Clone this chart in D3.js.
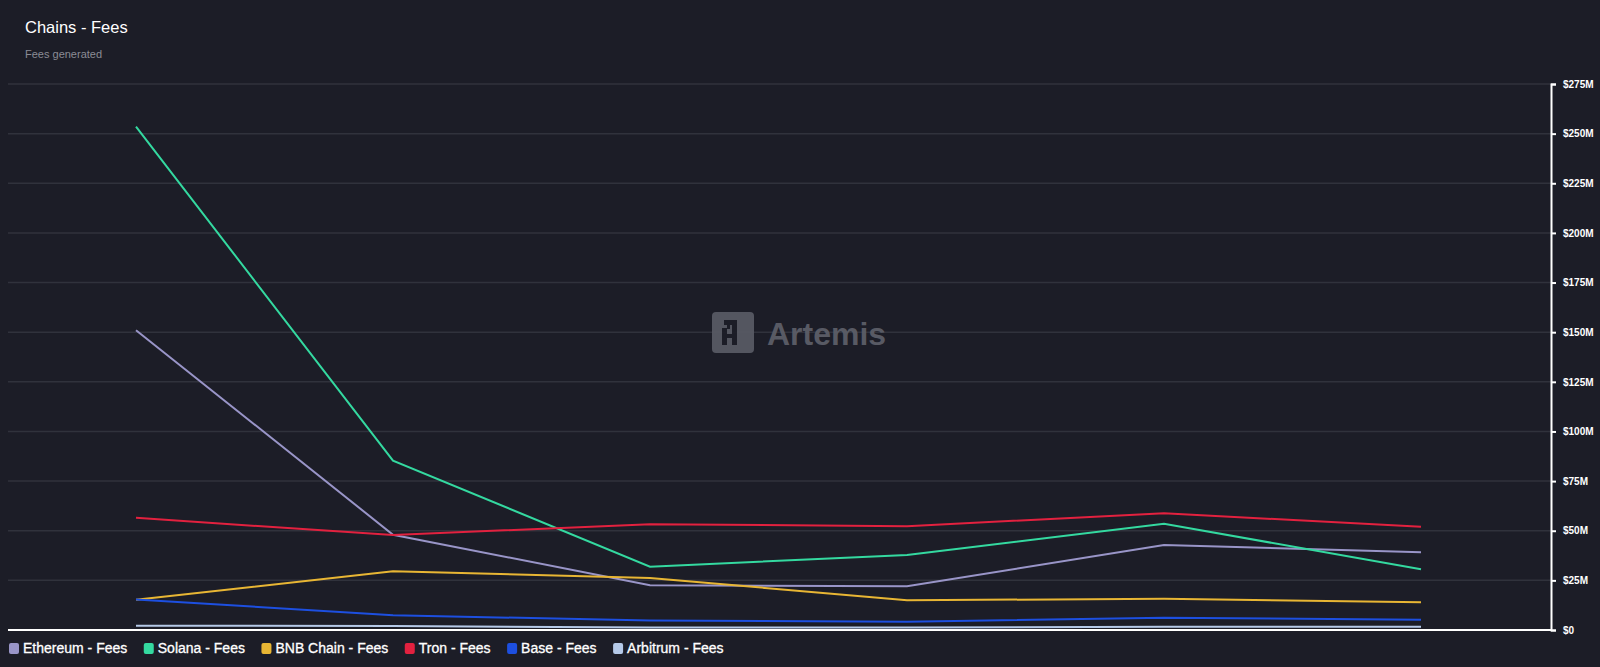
<!DOCTYPE html>
<meta charset="utf-8">
<head>
<style>
body { margin: 0; background: #1c1d27; }
svg { display: block; font-family: "Liberation Sans", Arial, sans-serif; }
.grid line { stroke: #30323c; stroke-width: 1.5; }
.yaxis text { fill: #fff; font-size: 10px; font-weight: bold; }
.legend text { fill: #fff; font-size: 14px; stroke: #fff; stroke-width: 0.3; }
</style>
</head>
<body>
<svg width="1600" height="667"></svg>
<script src="https://d3js.org/d3.v7.min.js"></script>
<script>

// periods (6 points along the x axis)
var periods = ["P1", "P2", "P3", "P4", "P5", "P6"];

// fees in $M
var ethereum = [151, 48, 22.5, 22, 42.8, 39.2];
var solana   = [253.5, 85.3, 31.9, 37.8, 53.5, 30.6];
var bnb      = [15.2, 29.6, 26.2, 15, 15.7, 14];
var tron     = [56.5, 47.8, 53.3, 52.3, 58.8, 52];
var base     = [15.4, 7.4, 4.8, 4.2, 6.2, 5.2];
var arbitrum = [2.2, 2, 1.2, 1.2, 1.6, 1.6];

var names  = ["Ethereum - Fees", "Solana - Fees", "BNB Chain - Fees", "Tron - Fees", "Base - Fees", "Arbitrum - Fees"];
var colors = ["#9995c8", "#34d9a0", "#e8b634", "#e2213f", "#1d4fe0", "#b5c9e8"];
var yTicks = [0, 25, 50, 75, 100, 125, 150, 175, 200, 225, 250, 275];

var series = [ethereum, solana, bnb, tron, base, arbitrum];

var svg = d3.select("svg");

var x = d3.scalePoint().domain(periods).range([136, 1421]);
var y = d3.scaleLinear().domain([0, 275]).range([630, 84]);

// title
svg.append("text").attr("x", 25).attr("y", 33)
    .attr("fill", "#fff").attr("font-size", 16.5).text("Chains - Fees");
svg.append("text").attr("x", 25).attr("y", 58)
    .attr("fill", "#8b8c95").attr("font-size", 11).text("Fees generated");

// grid
svg.append("g").attr("class", "grid")
  .selectAll("line")
  .data(yTicks.slice(1))
  .enter().append("line")
    .attr("x1", 8).attr("x2", 1551)
    .attr("y1", function(d) { return y(d); })
    .attr("y2", function(d) { return y(d); });

// watermark
var wm = svg.append("g").attr("opacity", 0.95);
wm.append("rect").attr("x", 712).attr("y", 312).attr("width", 42).attr("height", 41)
    .attr("rx", 4).attr("fill", "#585a64");
wm.append("path")
    .attr("d", "M727,320 h10 v25 h-5 v-7 h-5 v7 h-5 v-17 h5 v-3 h-3 v-5 z M727,332 v2 h5 v-9 h-2 v4 h-3 z")
    .attr("fill", "#1c1d27").attr("fill-rule", "evenodd");
wm.append("text").attr("x", 767).attr("y", 345)
    .attr("fill", "#5c5e68").attr("font-size", 32).attr("font-weight", "bold")
    .text("Artemis");

// lines
var line = d3.line()
    .x(function(d, i) { return x(periods[i]); })
    .y(function(d) { return y(d); });

svg.append("g")
  .selectAll("path")
  .data(series)
  .enter().append("path")
    .attr("fill", "none")
    .attr("stroke", function(d, i) { return colors[i]; })
    .attr("stroke-width", 2)
    .attr("d", line);

// x baseline
svg.append("line").attr("x1", 8).attr("x2", 1551)
    .attr("y1", y(0)).attr("y2", y(0))
    .attr("stroke", "#fff").attr("stroke-width", 2);

// right axis
var yAxis = d3.axisRight(y)
    .tickValues(yTicks)
    .tickSize(5)
    .tickPadding(7)
    .tickFormat(function(d) { return d === 0 ? "$0" : "$" + d + "M"; });

var ya = svg.append("g").attr("class", "yaxis")
    .attr("transform", "translate(1551,0)")
    .call(yAxis);
ya.select(".domain").attr("stroke", "#fff").attr("stroke-width", 2);
ya.selectAll(".tick line").attr("stroke", "#fff").attr("stroke-width", 2);

// legend
var lg = svg.append("g").attr("class", "legend");
var lx = 9;
names.forEach(function(n, i) {
  var item = lg.append("g").attr("transform", "translate(" + lx + ",648)");
  item.append("rect").attr("x", 0).attr("y", -5).attr("width", 10).attr("height", 11)
      .attr("rx", 2).attr("fill", colors[i]);
  var t = item.append("text").attr("x", 14).attr("y", 5).text(n);
  lx += 14 + t.node().getComputedTextLength() + 16.5;
});

</script>
</body>
</html>
